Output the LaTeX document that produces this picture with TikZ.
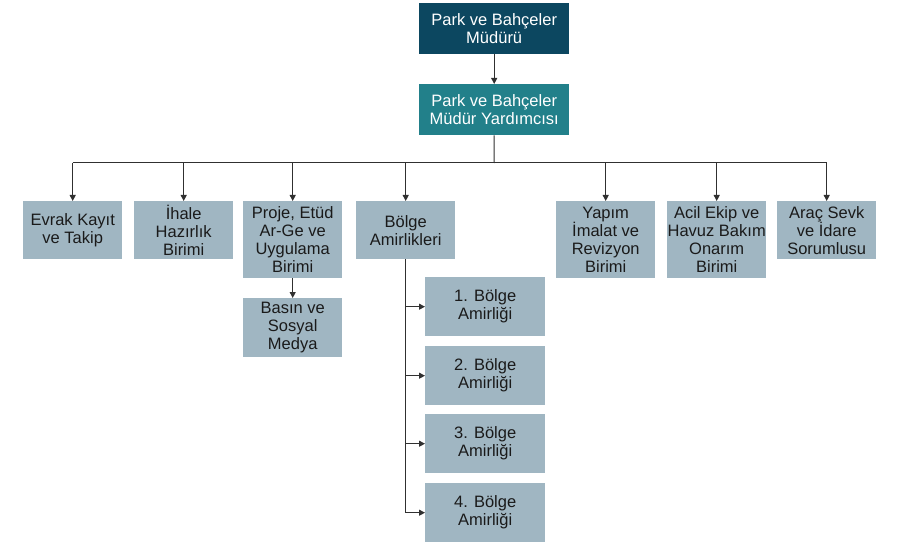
\documentclass[tikz,border=0pt]{standalone}
\usepackage{fontspec}
\setmainfont{Liberation Sans}
\usetikzlibrary{arrows.meta}
\definecolor{topc}{HTML}{0C4760}
\definecolor{midc}{HTML}{22808A}
\definecolor{boxc}{HTML}{A0B6C2}
\definecolor{linec}{HTML}{303030}
\definecolor{txtc}{HTML}{1A1A1A}
\tikzset{
  basebox/.style={anchor=north west, inner sep=0pt, align=center,
    font=\fontsize{16.5}{18}\selectfont},
  topbox/.style={basebox, fill=topc, text=white, minimum width=150pt, minimum height=51pt},
  midbox/.style={basebox, fill=midc, text=white, minimum width=150pt, minimum height=51pt},
  unitbox/.style={basebox, fill=boxc, text=txtc, minimum width=99pt},
  regbox/.style={basebox, fill=boxc, text=txtc, minimum width=120pt, minimum height=59pt},
  conn/.style={draw=linec, line width=1pt},
  arr/.style={conn, -{Triangle[length=6pt,width=6pt]}}
}
\begin{document}
\begin{tikzpicture}[x=1pt,y=-1pt]
\useasboundingbox (0,0) rectangle (909,545);
\node[topbox] (mud) at (419,3) {Park ve Bahçeler\\Müdürü};
\node[midbox] (yard) at (419,84) {Park ve Bahçeler\\Müdür Yardımcısı};

\node[unitbox, minimum height=58pt] (evrak) at (23,201) {Evrak Kayıt\\ve Takip};
\node[unitbox, minimum height=58pt] (ihale) at (134,201) {İhale\\Hazırlık\\Birimi};
\node[unitbox, minimum height=77pt] (proje) at (243,201) {Proje, Etüd\\Ar-Ge ve\\Uygulama\\Birimi};
\node[unitbox, minimum height=59pt] (basin) at (243,298) {Basın ve\\Sosyal\\Medya};
\node[unitbox, minimum height=58pt] (bolge) at (356,201) {Bölge\\Amirlikleri};
\node[unitbox, minimum height=77pt] (yapim) at (556,201) {Yapım\\İmalat ve\\Revizyon\\Birimi};
\node[unitbox, minimum height=77pt] (acil) at (667,201) {Acil Ekip ve\\Havuz Bakım\\Onarım\\Birimi};
\node[unitbox, minimum height=58pt] (arac) at (777,201) {Araç Sevk\\ve İdare\\Sorumlusu};

\node[regbox] (b1) at (425,277) {1. Bölge\\Amirliği};
\node[regbox] (b2) at (425,346) {2. Bölge\\Amirliği};
\node[regbox] (b3) at (425,414) {3. Bölge\\Amirliği};
\node[regbox] (b4) at (425,483) {4. Bölge\\Amirliği};

\coordinate (bus) at (494,163);

\draw[arr] (mud.south) -- (yard.north);
\draw[conn] (yard.south) -- (bus);
\draw[conn] (bus -| evrak.north) -- (bus -| arac.north);
\foreach \n in {evrak,ihale,proje,bolge,yapim,acil,arac}
  \draw[arr] (bus -| \n.north) -- (\n.north);
\draw[arr] (proje.south) -- (basin.north);
\draw[conn] (bolge.south) -- (bolge.south |- b4.west);
\foreach \n in {b1,b2,b3,b4}
  \draw[arr] (bolge.south |- \n.west) -- (\n.west);
\end{tikzpicture}
\end{document}
